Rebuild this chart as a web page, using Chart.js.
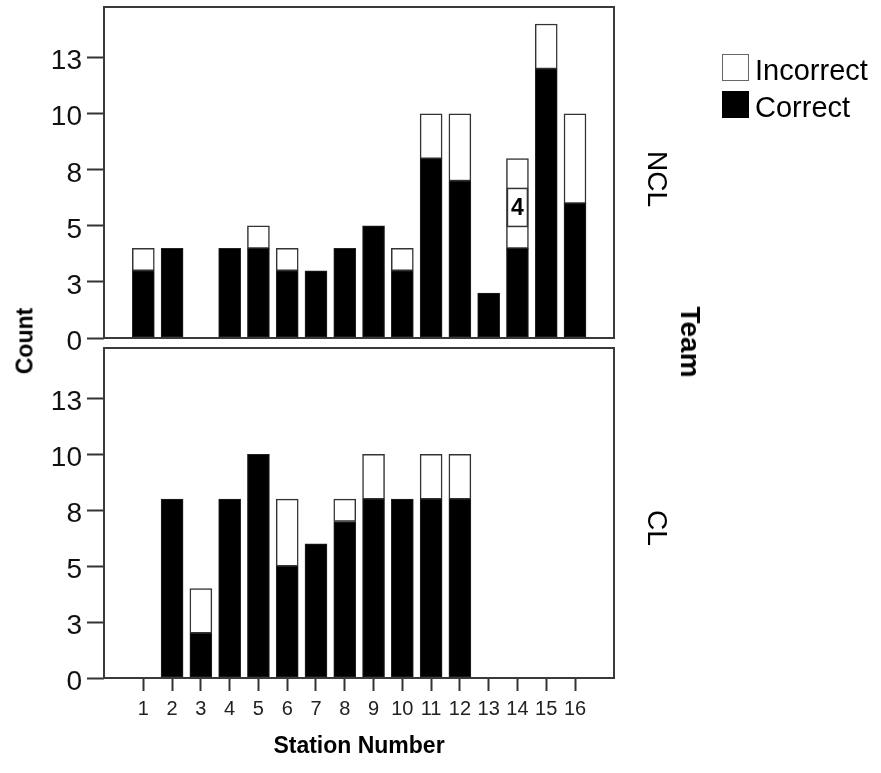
<!DOCTYPE html>
<html>
<head>
<meta charset="utf-8">
<script src="https://cdn.jsdelivr.net/npm/chart.js@4.4.1/dist/chart.umd.min.js"></script>
<style>
  html, body { margin: 0; padding: 0; background: #fff; }
  body { width: 881px; height: 773px; position: relative; overflow: hidden; font-family: "Liberation Sans", Arial, sans-serif; }
  canvas { position: absolute; left: 0; top: 0; }
  .lbl { position: absolute; white-space: nowrap; line-height: 1; color: #000; }
  .rot { transform: translate(-50%, -50%) rotate(90deg); }
  .rotl { transform: translate(-50%, -50%) rotate(-90deg); }
  .box { position: absolute; width: 25px; height: 25px; box-sizing: content-box; }
</style>
</head>
<body>
<canvas id="top" width="881" height="773"></canvas>
<canvas id="bottom" width="881" height="773"></canvas>

<div class="lbl rotl" style="left:25px; top:341px; font-size:23px; font-weight:bold;">Count</div>
<div class="lbl rot" style="left:690px; top:342px; font-size:28px; font-weight:bold;">Team</div>
<div class="lbl rot" style="left:657px; top:179px; font-size:28px;">NCL</div>
<div class="lbl rot" style="left:657px; top:528px; font-size:28px;">CL</div>

<div class="box" style="left:722px; top:54px; border:1.5px solid #666; background:#fff;"></div>
<div class="lbl" style="left:755px; top:56px; font-size:29px;">Incorrect</div>
<div class="box" style="left:722px; top:91px; border:1.5px solid #000; background:#000;"></div>
<div class="lbl" style="left:755px; top:93px; font-size:29px;">Correct</div>

<script>
// ---- data ----
const stations = [1, 2, 3, 4, 5, 6, 7, 8, 9, 10, 11, 12, 13, 14, 15, 16];
const seriesNames = ['Correct', 'Incorrect'];
const nclCorrect   = [3, 4, 0, 4, 4, 3, 3, 4, 5, 3, 8, 7, 2, 4, 12, 6];
const nclIncorrect = [1, 0, 0, 0, 1, 1, 0, 0, 0, 1, 2, 3, 0, 4, 2, 4];
const clCorrect    = [0, 8, 2, 8, 10, 5, 6, 7, 8, 8, 8, 8, 0, 0, 0, 0];
const clIncorrect  = [0, 0, 2, 0, 0, 3, 0, 1, 2, 0, 2, 2, 0, 0, 0, 0];
const nclIncorrectLabels = [null, null, null, null, null, null, null, null, null, null, null, null, null, '4', null, null];
const clIncorrectLabels  = [null, null, null, null, null, null, null, null, null, null, null, null, null, null, null, null];
const yTickValues = [0, 2.5, 5, 7.5, 10, 12.5];
const yTickLabels = ['0', '3', '5', '8', '10', '13'];
const xTitle = 'Station Number';

// ---- helpers ----
const frameColor = '#3a3a3a';

const framePlugin = {
  id: 'frame',
  afterDatasetsDraw(chart) {
    const a = chart.chartArea, ctx = chart.ctx;
    ctx.save();
    ctx.strokeStyle = frameColor;
    ctx.lineWidth = 2;
    ctx.strokeRect(a.left, a.top, a.right - a.left, a.bottom - a.top);
    ctx.restore();
  }
};

const segLabelPlugin = {
  id: 'segLabel',
  afterDatasetsDraw(chart, args, opts) {
    const labels = opts.labels || [];
    const meta = chart.getDatasetMeta(1);
    const ctx = chart.ctx;
    labels.forEach((t, i) => {
      if (t == null) return;
      const el = meta.data[i];
      if (!el) return;
      const w = el.width - 2, h = 38;
      const cx = el.x, cy = (el.y + el.base) / 2 + 4;
      ctx.save();
      ctx.fillStyle = '#fff';
      ctx.fillRect(cx - w / 2, cy - h / 2, w, h);
      ctx.strokeStyle = '#333';
      ctx.lineWidth = 1.5;
      ctx.strokeRect(cx - w / 2, cy - h / 2, w, h);
      ctx.fillStyle = '#000';
      ctx.font = 'bold 23px "Liberation Sans", Arial, sans-serif';
      ctx.textAlign = 'center';
      ctx.textBaseline = 'middle';
      ctx.fillText(t, cx, cy + 1);
      ctx.restore();
    });
  }
};

function makeChart(id, correct, incorrect, segLabels, isBottom) {
  const padding = isBottom
    ? { left: 0, right: 267, top: 348, bottom: 12.7 }
    : { left: 0, right: 267, top: 7, bottom: 435 };
  return new Chart(document.getElementById(id), {
    type: 'bar',
    data: {
      datasets: [
        {
          label: seriesNames[0],
          data: stations.map((s, i) => ({ x: s, y: correct[i] })),
          backgroundColor: '#000',
          borderColor: '#222',
          borderWidth: 1,
          borderSkipped: false,
          stack: 's',
          barThickness: 22
        },
        {
          label: seriesNames[1],
          data: stations.map((s, i) => ({ x: s, y: incorrect[i] })),
          backgroundColor: '#fff',
          borderColor: '#333',
          borderWidth: 1.5,
          borderSkipped: false,
          stack: 's',
          barThickness: 22
        }
      ]
    },
    options: {
      responsive: false,
      animation: false,
      events: [],
      devicePixelRatio: 1,
      layout: { padding },
      plugins: {
        legend: { display: false },
        tooltip: { enabled: false },
        segLabel: { labels: segLabels }
      },
      scales: {
        x: {
          type: 'linear',
          display: isBottom,
          min: -0.366,
          max: 17.355,
          bounds: 'data',
          offset: false,
          stacked: true,
          afterBuildTicks(scale) { scale.ticks = stations.map(v => ({ value: v })); },
          afterFit(scale) {
            if (isBottom) scale.height = 82.3;
            scale.paddingLeft = 0; scale.paddingRight = 0;
          },
          grid: {
            offset: false,
            drawOnChartArea: false,
            drawTicks: true,
            tickLength: 13,
            tickColor: '#333',
            tickWidth: 2
          },
          border: { display: false },
          ticks: {
            autoSkip: false,
            maxRotation: 0,
            padding: 6,
            color: '#222',
            font: { family: '"Liberation Sans", Arial, sans-serif', size: 20 },
            callback: (v) => String(v)
          },
          title: {
            display: isBottom,
            text: xTitle,
            color: '#000',
            padding: { top: 0, bottom: 0 },
            font: { family: '"Liberation Sans", Arial, sans-serif', size: 23, weight: 'bold', lineHeight: 1.2 }
          }
        },
        y: {
          type: 'linear',
          min: 0,
          max: 14.76,
          bounds: 'data',
          stacked: true,
          afterBuildTicks(scale) { scale.ticks = yTickValues.map(v => ({ value: v })); },
          afterFit(scale) {
            scale.width = 104;
            scale.paddingTop = 0; scale.paddingBottom = 0;
          },
          grid: {
            drawOnChartArea: false,
            drawTicks: true,
            tickLength: 17,
            tickColor: '#333',
            tickWidth: 2
          },
          border: { display: false },
          ticks: {
            padding: 5,
            labelOffset: 4,
            color: '#111',
            font: { family: '"Liberation Sans", Arial, sans-serif', size: 28 },
            callback: (v, i) => yTickLabels[i]
          }
        }
      }
    },
    plugins: [framePlugin, segLabelPlugin]
  });
}

makeChart('top', nclCorrect, nclIncorrect, nclIncorrectLabels, false);
makeChart('bottom', clCorrect, clIncorrect, clIncorrectLabels, true);
</script>
</body>
</html>
